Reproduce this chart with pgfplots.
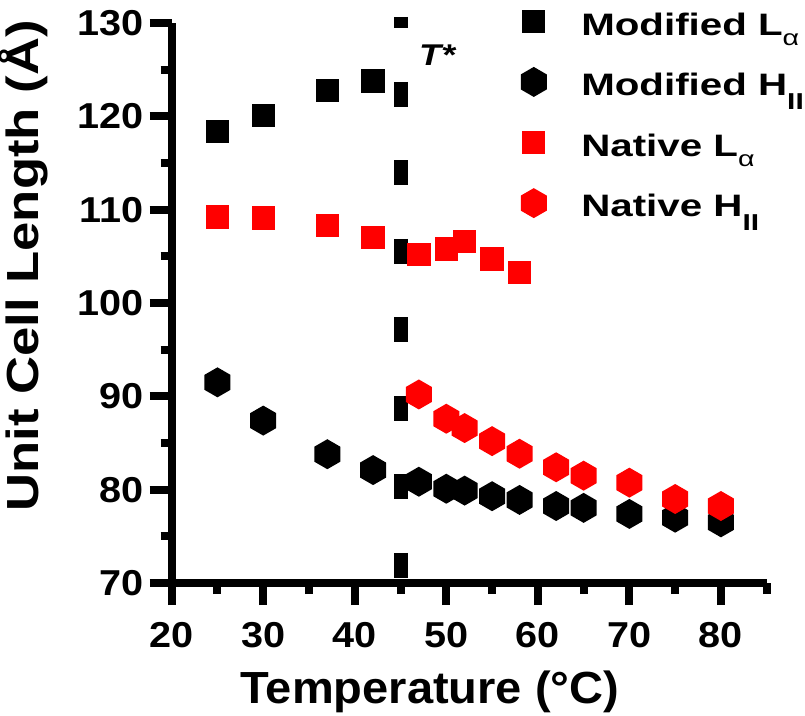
\documentclass[border=0pt]{standalone}
\usepackage{fontspec}
\setmainfont{Liberation Sans}
\newfontfamily\tickfont{Liberation Sans}[FakeStretch=1.1]
\newfontfamily\legfont{Liberation Sans}[FakeStretch=1.3]
\newfontfamily\xlabfont{Liberation Sans}[FakeStretch=1.045]
\newfontfamily\ylabfont{Liberation Sans}[FakeStretch=1.17]
\newfontfamily\tfont{Liberation Sans}[FakeStretch=1.2]
\usepackage{pgfplots}
\pgfplotsset{compat=1.18}

\pgfdeclareplotmark{sqf}{%
  \pgfpathrectangle{\pgfpoint{-\pgfplotmarksize}{-\pgfplotmarksize}}{\pgfpoint{2\pgfplotmarksize}{2\pgfplotmarksize}}%
  \pgfusepathqfill}
\pgfdeclareplotmark{hexf}{%
  \pgfpathmoveto{\pgfpointpolar{90}{\pgfplotmarksize}}%
  \pgfpathlineto{\pgfpointpolar{150}{\pgfplotmarksize}}%
  \pgfpathlineto{\pgfpointpolar{210}{\pgfplotmarksize}}%
  \pgfpathlineto{\pgfpointpolar{270}{\pgfplotmarksize}}%
  \pgfpathlineto{\pgfpointpolar{330}{\pgfplotmarksize}}%
  \pgfpathlineto{\pgfpointpolar{30}{\pgfplotmarksize}}%
  \pgfpathclose
  \pgfusepathqfill}

\newcommand{\subA}{\raisebox{-10pt}{\fontsize{22}{22}\selectfont\mdseries α}}
\newcommand{\subII}{\raisebox{-13.7pt}{\fontsize{23}{23}\selectfont\bfseries II}}

\begin{document}
\begin{tikzpicture}
\useasboundingbox (0,0) rectangle (805pt,715pt);
\begin{axis}[
  at={(171.7pt,132pt)}, anchor=south west,
  scale only axis, width=595pt, height=560pt,
  xmin=20, xmax=85, ymin=70, ymax=130,
  clip=false,
  axis x line*=bottom, axis y line*=left,
  axis line style={-, line width=8pt},
  xtick={20,30,...,80}, ytick={70,80,...,130},
  minor xtick={25,35,...,85}, minor ytick={75,85,...,125},
  tick align=outside,
  major tick length=22pt, minor tick length=11pt,
  tick style={black, line width=8pt},
  /pgf/number format/assume math mode=true,
  ticklabel style={font=\tickfont\bfseries\fontsize{36}{36}\selectfont, inner sep=0pt},
  yticklabel style={anchor=east, xshift=-5.7pt},
  xticklabel style={anchor=north, yshift=-17pt},
  xlabel={Temperature (°C)},
  ylabel={Unit Cell Length (Å)},
  xlabel style={at={(axis description cs:0.434,-0.215)}, anchor=base, inner sep=0pt, font=\xlabfont\bfseries\fontsize{45}{45}\selectfont},
  ylabel style={at={(axis description cs:-0.2242,0.566)}, anchor=base, inner sep=0pt, font=\ylabfont\bfseries\fontsize{45}{45}\selectfont},
  legend cell align=left,
  legend style={at={(axis description cs:0.5867,1.0321)}, anchor=north west, draw=none, fill=none,
    inner sep=0pt, outer sep=0pt, row sep=0pt, column sep=34.5pt,
    font=\legfont\bfseries\fontsize{31}{31}\selectfont,
    nodes={inner sep=0pt, text height=30pt, text depth=30.6pt}},
  legend image code/.code={\draw[#1] plot[only marks] coordinates {(0pt,14pt)};},
]
\addplot[only marks, color=black, mark=sqf, mark size=11.67pt] coordinates {
(25,118.4) (30,120.1) (37,122.8) (42,123.8)};
\addlegendentry{Modified L\subA}
\addplot[only marks, color=black, mark=hexf, mark size=15pt] coordinates {
(25,91.5) (30,87.4) (37,83.8) (42,82.1) (47,80.85) (50,80.1) (52,79.9) (55,79.3) (58,78.9) (62,78.25) (65,78.05) (70,77.4) (75,77.0) (80,76.5)};
\addlegendentry{Modified H\subII}
\addplot[only marks, color=red, mark=sqf, mark size=11.67pt] coordinates {
(25,109.2) (30,109.1) (37,108.3) (42,107.05) (47,105.2) (50,105.8) (52,106.6) (55,104.7) (58,103.3)};
\addlegendentry{Native L\subA}
\addplot[only marks, color=red, mark=hexf, mark size=15pt] coordinates {
(47,90.2) (50,87.6) (52,86.6) (55,85.2) (58,83.85) (62,82.4) (65,81.5) (70,80.75) (75,79.0) (80,78.25)};
\addlegendentry{Native H\subII}
\addplot[forget plot, no markers, black, line width=14pt, dash pattern=on 25pt off 53.5pt, dash phase=13.5pt] coordinates {(45,130.65) (45,70)};
\node[anchor=base west, inner sep=0pt, font=\tfont\bfseries\itshape\fontsize{30}{30}\selectfont] at (axis cs:47,125.5) {T*};
\end{axis}
\end{tikzpicture}
\end{document}
